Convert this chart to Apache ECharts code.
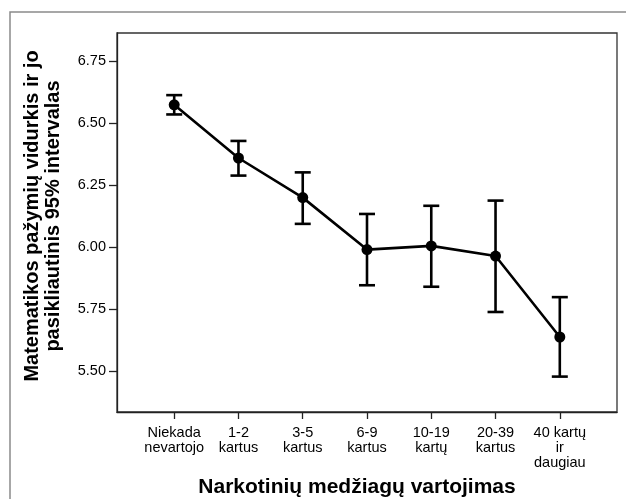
<!DOCTYPE html>
<html>
<head>
<meta charset="utf-8">
<script src="https://cdn.jsdelivr.net/npm/echarts@6/dist/echarts.min.js"></script>
<style>
html,body{margin:0;padding:0;background:#fff;}
#chart{width:626px;height:499px;}
</style>
</head>
<body>
<div id="chart"></div>
<script>
// Data
const categories = ['Niekada\nnevartojo', '1-2\nkartus', '3-5\nkartus', '6-9\nkartus', '10-19\nkartų', '20-39\nkartus', '40 kartų\nir\ndaugiau'];
const means = [6.575, 6.360, 6.200, 5.990, 6.005, 5.964, 5.637];
const lower = [6.536, 6.289, 6.094, 5.846, 5.840, 5.738, 5.477];
const upper = [6.614, 6.429, 6.302, 6.134, 6.167, 6.188, 5.798];
const yTicks = [5.5, 5.75, 6.0, 6.25, 6.5, 6.75];
const xTitle = 'Narkotinių medžiagų vartojimas';
const yTitle1 = 'Matematikos pažymių vidurkis ir jo';
const yTitle2 = 'pasikliautinis 95% intervalas';

const idx = categories.map((c, i) => i);
const font = 'Liberation Sans, Arial, sans-serif';

const chart = echarts.init(document.getElementById('chart'), null, {renderer: 'canvas'});
chart.setOption({
  backgroundColor: '#ffffff',
  animation: false,
  grid: {
    left: 117, top: 33, right: 9, bottom: 87,
    show: true, borderColor: '#333', borderWidth: 1.3, backgroundColor: 'transparent'
  },
  xAxis: {
    type: 'value',
    min: -0.89, max: 6.89,
    splitLine: {show: false},
    axisLine: {show: true, onZero: false, lineStyle: {color: '#222', width: 1.3}},
    axisTick: {show: true, customValues: idx, length: 7, lineStyle: {color: '#222', width: 1.3}},
    axisLabel: {
      customValues: idx,
      formatter: v => categories[Math.round(v)],
      color: '#000', fontFamily: font, fontSize: 14.5, lineHeight: 15, margin: 13,
      align: 'center', verticalAlign: 'top'
    }
  },
  yAxis: {
    type: 'value',
    min: 5.334, max: 6.865,
    splitLine: {show: false},
    axisLine: {show: true, onZero: false, lineStyle: {color: '#222', width: 1.3}},
    axisTick: {show: true, customValues: yTicks, length: 8, lineStyle: {color: '#222', width: 1.3}},
    axisLabel: {
      customValues: yTicks,
      formatter: v => v.toFixed(2),
      color: '#000', fontFamily: font, fontSize: 14.5, margin: 11
    }
  },
  graphic: [
    {type: 'rect', silent: true, z: -10, shape: {x: 10, y: 12, width: 700, height: 600},
     style: {fill: 'none', stroke: '#8a8a8a', lineWidth: 1.5}},
    {type: 'text', x: 357, y: 487, style: {text: xTitle, font: 'bold 21px ' + font, fill: '#000', align: 'center', verticalAlign: 'middle'}},
    {type: 'text', x: 32, y: 216, rotation: Math.PI / 2, style: {text: yTitle1, font: 'bold 20px ' + font, fill: '#000', align: 'center', verticalAlign: 'middle'}},
    {type: 'text', x: 53, y: 216, rotation: Math.PI / 2, style: {text: yTitle2, font: 'bold 20px ' + font, fill: '#000', align: 'center', verticalAlign: 'middle'}}
  ],
  series: [
    {
      type: 'custom',
      data: idx.map(i => [i, lower[i], upper[i]]),
      renderItem: function (params, api) {
        const x = api.value(0);
        const lo = api.coord([x, api.value(1)]);
        const hi = api.coord([x, api.value(2)]);
        const hw = 8;
        const st = {stroke: '#000', lineWidth: 2.6};
        return {
          type: 'group',
          children: [
            {type: 'line', shape: {x1: lo[0], y1: lo[1], x2: hi[0], y2: hi[1]}, style: st},
            {type: 'line', shape: {x1: hi[0] - hw, y1: hi[1], x2: hi[0] + hw, y2: hi[1]}, style: st},
            {type: 'line', shape: {x1: lo[0] - hw, y1: lo[1], x2: lo[0] + hw, y2: lo[1]}, style: st}
          ]
        };
      },
      z: 2
    },
    {
      type: 'line',
      data: idx.map(i => [i, means[i]]),
      symbol: 'circle', symbolSize: 11,
      lineStyle: {color: '#000', width: 2.6},
      itemStyle: {color: '#000'},
      z: 3
    }
  ]
});
</script>
</body>
</html>
